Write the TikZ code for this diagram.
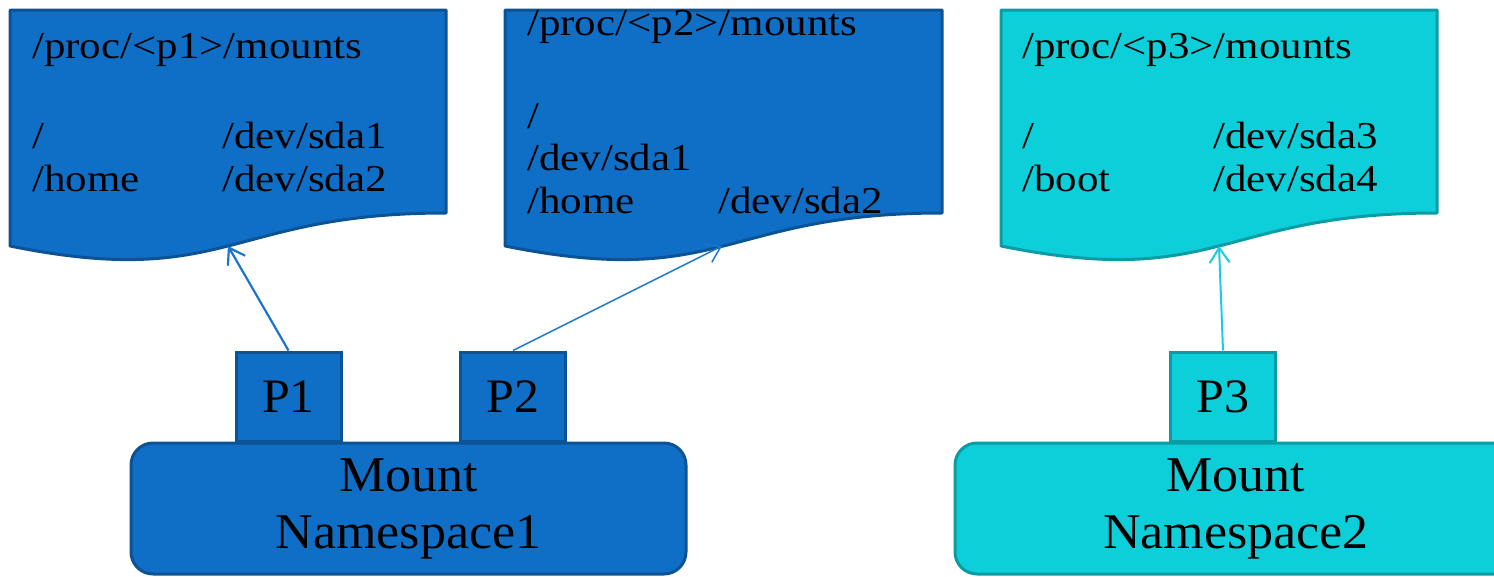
\documentclass[tikz,border=0pt]{standalone}
\usepackage{fontspec}
\setmainfont{Liberation Serif}
\newfontfamily\docfont[FakeStretch=1.13]{Liberation Serif}
\newfontfamily\lblfont[FakeStretch=1.04]{Liberation Serif}
\usetikzlibrary{arrows.meta}

\definecolor{nsblue}{HTML}{0F6FC6}
\definecolor{nsblueline}{HTML}{0B5394}
\definecolor{nsbluearrow}{HTML}{1A74CA}
\definecolor{nscyan}{HTML}{0DCFDA}
\definecolor{nscyanline}{HTML}{0A9CA4}
\definecolor{nscyanarrow}{HTML}{1BCDE0}

\tikzset{
  docblue/.style={fill=nsblue, draw=nsblueline, line width=3pt, line join=round},
  doccyan/.style={fill=nscyan, draw=nscyanline, line width=3pt, line join=round},
  doctext/.style={anchor=base west, inner sep=0pt, text=black,
    font=\docfont\fontsize{38}{43}\selectfont},
  procbox/.style={draw, line width=3pt, minimum width=105pt, minimum height=89pt,
    inner sep=0pt, text=black, font=\lblfont\fontsize{48}{57}\selectfont},
  nsbox/.style={draw, line width=3pt, rounded corners=22pt, minimum width=555pt,
    minimum height=131pt, inner sep=0pt, align=center, text=black,
    font=\lblfont\fontsize{50}{57}\selectfont},
  link/.style={-{Straight Barb[length=15pt,width=20pt]}},
}

\begin{document}
\begin{tikzpicture}[x=1pt, y=-1pt]
\useasboundingbox (0,0) rectangle (1494,576);
\clip (0,0) rectangle (1494,576);

% mounts tables of the three processes (document shapes)
\draw[docblue] (10,10) -- (446,10) -- (446,213)
  .. controls (228,213) and (228,290) .. (10,246) -- cycle;
\coordinate (doc1) at (228,246);
\draw[docblue] (505,10) -- (942,10) -- (942,213)
  .. controls (723.5,213) and (723.5,290) .. (505,246) -- cycle;
\coordinate (doc2) at (722,246);
\draw[doccyan] (1001,10) -- (1437,10) -- (1437,213)
  .. controls (1219,213) and (1219,290) .. (1001,246) -- cycle;
\coordinate (doc3) at (1219,246);

% contents of /proc/<p1>/mounts
\node[doctext] (t1a) at (32,58) {/proc/<p1>/mounts};
\node[doctext] (t1b) at (32,148) {/};
\node[doctext] (t1c) at (222,148) {/dev/sda1};
\node[doctext] (t1d) at (32,191) {/home};
\node[doctext] (t1e) at (222,191) {/dev/sda2};

% contents of /proc/<p2>/mounts
\node[doctext] (t2a) at (527,35) {/proc/<p2>/mounts};
\node[doctext] (t2b) at (527,128) {/};
\node[doctext] (t2c) at (527,170) {/dev/sda1};
\node[doctext] (t2d) at (527,213) {/home};
\node[doctext] (t2e) at (718,213) {/dev/sda2};

% contents of /proc/<p3>/mounts
\node[doctext] (t3a) at (1022,58) {/proc/<p3>/mounts};
\node[doctext] (t3b) at (1022,148) {/};
\node[doctext] (t3c) at (1213,148) {/dev/sda3};
\node[doctext] (t3d) at (1022,191) {/boot};
\node[doctext] (t3e) at (1213,191) {/dev/sda4};

% processes
\node[procbox, fill=nsblue, draw=nsblueline] (p1) at (288.5,396.5) {P1};
\node[procbox, fill=nsblue, draw=nsblueline] (p2) at (513,396.5) {P2};
\node[procbox, fill=nscyan, draw=nscyanline] (p3) at (1223,396.5) {P3};

% mount namespaces (the second runs past the right edge)
\node[nsbox, fill=nsblue, draw=nsblueline] (ns1) at (408.5,508.5) {Mount\\Namespace1};
\node[nsbox, fill=nscyan, draw=nscyanline, minimum width=562pt] (ns2) at (1236,508.5) {Mount\\Namespace2};

% each process sees its own mounts table
\draw[link, draw=nsbluearrow, line width=2.2pt] (p1.north) -- (doc1);
\draw[link, draw=nsbluearrow, line width=1.5pt] (p2.north) -- (doc2);
\draw[link, draw=nscyanarrow, line width=2pt] (p3.north) -- (doc3);
\end{tikzpicture}
\end{document}
